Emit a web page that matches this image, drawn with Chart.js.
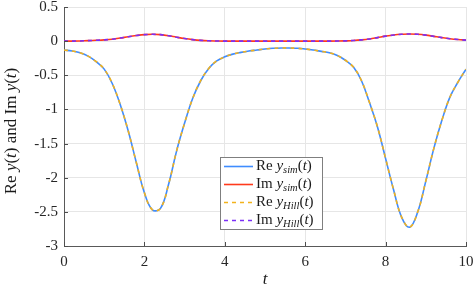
<!DOCTYPE html>
<html>
<head>
<meta charset="utf-8">
<script src="https://cdn.jsdelivr.net/npm/chart.js@4/dist/chart.umd.min.js"></script>
<style>
  html, body { margin: 0; padding: 0; background: #fff; }
  #wrap { width: 475px; height: 287px; }
</style>
</head>
<body>
<div id="wrap"><canvas id="myChart" width="475" height="287"></canvas></div>
<script>
// valeurs (pas de 0.2)
var temps = [0, 0.2, 0.4, 0.6, 0.8, 1, 1.2, 1.4, 1.6, 1.8, 2, 2.2, 2.4, 2.6, 2.8, 3, 3.2, 3.4, 3.6, 3.8,
  4, 4.2, 4.4, 4.6, 4.8, 5, 5.2, 5.4, 5.6, 5.8, 6, 6.2, 6.4, 6.6, 6.8, 7, 7.2, 7.4, 7.6, 7.8,
  8, 8.2, 8.4, 8.6, 8.8, 9, 9.2, 9.4, 9.6, 9.8, 10];
var reSim = [-0.13, -0.145, -0.17, -0.22, -0.30, -0.41, -0.62, -0.93, -1.32, -1.78,
  -2.22, -2.47, -2.45, -2.10, -1.61, -1.20, -0.84, -0.58, -0.40, -0.29,
  -0.23, -0.19, -0.165, -0.145, -0.13, -0.115, -0.105, -0.10, -0.10, -0.105,
  -0.115, -0.13, -0.15, -0.17, -0.21, -0.28, -0.38, -0.58, -0.90, -1.26,
  -1.72, -2.18, -2.58, -2.725, -2.50, -2.05, -1.57, -1.16, -0.82, -0.60, -0.41];
var imSim = [0, 0, 0.003, 0.007, 0.012, 0.018, 0.028, 0.045, 0.065, 0.082,
  0.095, 0.10, 0.095, 0.08, 0.058, 0.038, 0.022, 0.011, 0.005, 0.002,
  0, 0, 0, 0, 0, 0, 0, 0, 0, 0,
  0, 0, 0, 0, 0.001, 0.004, 0.009, 0.018, 0.032, 0.052,
  0.073, 0.09, 0.10, 0.105, 0.10, 0.088, 0.07, 0.052, 0.036, 0.024, 0.015];
// la solution de Hill se superpose à la simulation
var reHill = reSim.slice();
var imHill = imSim.slice();

var xTicks = ['0', '2', '4', '6', '8', '10'];
var yTicks = ['0.5', '0', '-0.5', '-1', '-1.5', '-2', '-2.5', '-3'];

var police = '"Liberation Serif", "DejaVu Serif", serif';

function points(vals) {
    return vals.map(function (v, i) { return { x: temps[i], y: v }; });
}

// petit texte "mathématique" : morceaux droits / italiques / indices
function ecrireMath(ctx, morceaux, x, y, taille) {
    var cx = x;
    morceaux.forEach(function (m) {
        var t = m.sub ? taille * 0.7 : taille;
        ctx.font = (m.it ? 'italic ' : '') + t + 'px ' + police;
        ctx.fillText(m.t, cx, y + (m.sub ? taille * 0.25 : 0));
        cx += ctx.measureText(m.t).width;
    });
    return cx - x;
}

function etiquette(nom, indice) {
    return [{ t: nom + ' ' }, { t: 'y', it: true }, { t: indice, it: true, sub: true },
        { t: '(' }, { t: 't', it: true }, { t: ')' }];
}

var decor = {
    id: 'decor',
    afterDraw: function (chart) {
        var ctx = chart.ctx;
        var a = chart.chartArea;
        var sx = chart.scales.x, sy = chart.scales.y;
        ctx.save();
        // graduations vers l'intérieur (style MATLAB)
        ctx.strokeStyle = '#4d4d4d';
        ctx.lineWidth = 1;
        ctx.beginPath();
        sx.ticks.forEach(function (t) {
            var px = Math.round(sx.getPixelForValue(t.value)) + 0.5;
            ctx.moveTo(px, a.bottom); ctx.lineTo(px, a.bottom - 4);
        });
        sy.ticks.forEach(function (t) {
            var py = Math.round(sy.getPixelForValue(t.value)) + 0.5;
            ctx.moveTo(a.left, py); ctx.lineTo(a.left + 4, py);
        });
        ctx.stroke();

        // titres des axes
        ctx.fillStyle = '#1a1a1a';
        ctx.textBaseline = 'middle';
        ctx.font = 'italic 17px ' + police;
        ctx.textAlign = 'center';
        ctx.fillText('t', (a.left + a.right) / 2, 280);
        ctx.textAlign = 'left';
        var titre = [{ t: 'Re ' }, { t: 'y', it: true }, { t: '(' }, { t: 't', it: true }, { t: ') and Im ' },
            { t: 'y', it: true }, { t: '(' }, { t: 't', it: true }, { t: ')' }];
        ctx.save();
        ctx.translate(12, 131);
        ctx.rotate(-Math.PI / 2);
        var w = 0;
        titre.forEach(function (m) {
            ctx.font = (m.it ? 'italic ' : '') + '17px ' + police;
            w += ctx.measureText(m.t).width;
        });
        ecrireMath(ctx, titre, -w / 2, 0, 17);
        ctx.restore();

        // légende
        var bx = 220.5, by = 157.5, bw = 102, bh = 72;
        ctx.fillStyle = '#fff';
        ctx.fillRect(bx, by, bw, bh);
        ctx.strokeStyle = '#7f7f7f';
        ctx.strokeRect(bx, by, bw, bh);
        var noms = [['Re', 'sim'], ['Im', 'sim'], ['Re', 'Hill'], ['Im', 'Hill']];
        chart.data.datasets.forEach(function (ds, i) {
            var ly = 166.5 + i * 18;
            ctx.strokeStyle = ds.borderColor;
            ctx.lineWidth = ds.borderWidth;
            ctx.setLineDash(ds.borderDash || []);
            ctx.beginPath();
            ctx.moveTo(224, ly); ctx.lineTo(253, ly);
            ctx.stroke();
            ctx.setLineDash([]);
            ctx.fillStyle = '#1a1a1a';
            ecrireMath(ctx, etiquette(noms[i][0], noms[i][1]), 256, ly, 15);
        });
        ctx.restore();
    }
};

var ctx = document.getElementById('myChart').getContext('2d');

var myChart = new Chart(ctx, {
    type: 'line',
    data: {
        datasets: [
            { label: 'Re y_sim(t)', data: points(reSim), borderColor: '#3f8cff', borderWidth: 1.6, order: 2 },
            { label: 'Im y_sim(t)', data: points(imSim), borderColor: '#ff3a1c', borderWidth: 1.6, order: 2 },
            { label: 'Re y_Hill(t)', data: points(reHill), borderColor: '#f2b21c', borderWidth: 1.6, borderDash: [4, 4], order: 1 },
            { label: 'Im y_Hill(t)', data: points(imHill), borderColor: '#7b2ff7', borderWidth: 1.6, borderDash: [4, 4], order: 1 }
        ]
    },
    options: {
        responsive: false,
        animation: false,
        events: [],
        layout: { padding: { left: 0, right: 9, top: 7, bottom: 0 } },
        elements: {
            point: { radius: 0 },
            line: { tension: 0.4, fill: false }
        },
        plugins: {
            legend: { display: false },
            tooltip: { enabled: false }
        },
        scales: {
            x: {
                type: 'linear', min: 0, max: 10,
                ticks: {
                    stepSize: 2, padding: 7, color: '#262626',
                    font: { family: police, size: 15 },
                    callback: function (v) { return xTicks[Math.round(v / 2)]; }
                },
                grid: { color: '#e6e6e6', drawTicks: false },
                border: { color: '#595959' },
                afterFit: function (s) {
                    s.height = 41;
                    s.paddingLeft = 0; s.paddingRight = 0;
                }
            },
            y: {
                min: -3, max: 0.5,
                ticks: {
                    stepSize: 0.5, padding: 6, color: '#262626',
                    font: { family: police, size: 15 },
                    callback: function (v) { return yTicks[Math.round((0.5 - v) / 0.5)]; }
                },
                grid: { color: '#e6e6e6', drawTicks: false },
                border: { color: '#595959' },
                afterFit: function (s) {
                    s.width = 64;
                    s.paddingTop = 0; s.paddingBottom = 0;
                }
            }
        }
    },
    plugins: [decor]
});
</script>
</body>
</html>
